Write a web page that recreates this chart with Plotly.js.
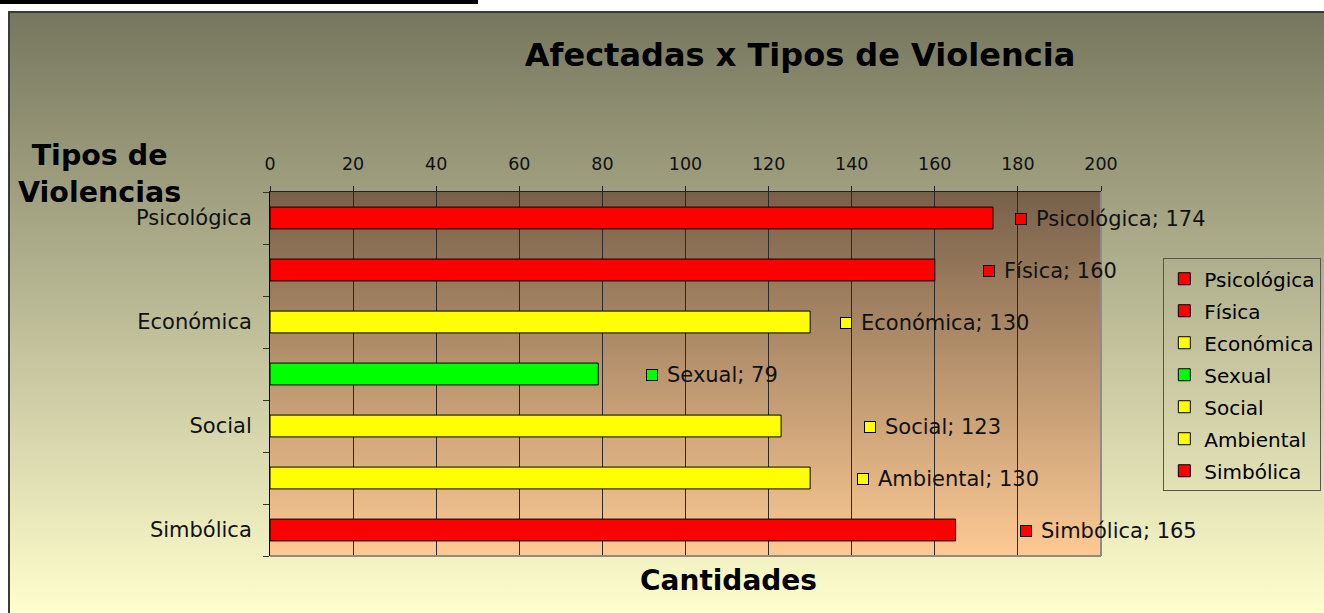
<!DOCTYPE html>
<html>
<head>
<meta charset="utf-8">
<script src="https://cdn.plot.ly/plotly-3.0.1.min.js"></script>
<style>
  html, body { margin: 0; padding: 0; background: #fff; }
  #wrap { position: relative; width: 1324px; height: 613px; overflow: hidden; background: #fff; }
  #frame { position: absolute; left: 8px; top: 11px; right: -10px; bottom: 0; box-sizing: border-box;
           background: linear-gradient(to bottom, #77775f 0%, #fffecd 100%);
           border-left: 2px solid #3a3a3a; border-top: 2px solid #3a3a3a; }
  #topbar { position: absolute; left: 0; top: 0; width: 478px; height: 4px; background: #000; }
  #chart { position: absolute; left: 0; top: 0; width: 1324px; height: 613px; }
</style>
</head>
<body>
<div id="wrap">
  <div id="frame"></div>
  <div id="topbar"></div>
  <div id="chart"></div>
</div>
<script>
// ---- data ----
const categories = ['Psicológica', 'Física', 'Económica', 'Sexual', 'Social', 'Ambiental', 'Simbólica'];
const values = [174, 160, 130, 79, 123, 130, 165];
const barColors = ['#ff0000', '#ff0000', '#ffff00', '#00ff00', '#ffff00', '#ffff00', '#ff0000'];
const yTickText = ['Psicológica', '', 'Económica', '', 'Social', '', 'Simbólica'];
const xTickVals = [0, 20, 40, 60, 80, 100, 120, 140, 160, 180, 200];
const chartTitle = 'Afectadas x Tipos de Violencia';
const yTitle = 'Tipos de<br>Violencias';
const xTitle = 'Cantidades';
// data-label offsets (pixels) to the right of each bar end
const labelShift = [22, 48, 30, 48, 83, 47, 64];

const FONT = 'DejaVu Sans, Arial, sans-serif';

const traces = categories.map((c, i) => ({
  type: 'bar',
  orientation: 'h',
  x: [values[i]],
  y: [c],
  name: c,
  legendgroup: c,
  width: 0.42,
  marker: { color: barColors[i], line: { color: '#000', width: 1 } },
  hovertemplate: c + ': %{x}<extra></extra>'
}));

const annotations = [];
categories.forEach((c, i) => {
  annotations.push({
    x: values[i], y: c, xref: 'x', yref: 'y',
    xanchor: 'left', yanchor: 'middle', xshift: labelShift[i], yshift: -1,
    showarrow: false, text: ' ', width: 10, height: 10,
    bgcolor: barColors[i], bordercolor: '#000', borderwidth: 1, borderpad: 0,
    font: { size: 6 }
  });
  annotations.push({
    x: values[i], y: c, xref: 'x', yref: 'y',
    xanchor: 'left', yanchor: 'middle', xshift: labelShift[i] + 19, yshift: -1,
    showarrow: false, text: c + '; ' + values[i],
    font: { family: FONT, size: 21, color: '#111' }
  });
});
annotations.push({
  xref: 'paper', yref: 'paper', x: -0.205, y: 1.049, xanchor: 'center', yanchor: 'middle',
  showarrow: false, text: '<b>' + yTitle.replace('<br>', '</b><br><b>') + '</b>',
  font: { family: FONT, size: 28.5, color: '#000' }
});
annotations.push({
  xref: 'paper', yref: 'paper', x: 0.552, y: -0.066, xanchor: 'center', yanchor: 'middle',
  showarrow: false, text: '<b>' + xTitle + '</b>',
  font: { family: FONT, size: 28, color: '#000' }
});

const plotBg = 'data:image/svg+xml;base64,' + btoa(
  '<svg xmlns="http://www.w3.org/2000/svg" width="100" height="100" viewBox="0 0 100 100" preserveAspectRatio="none">' +
  '<defs><linearGradient id="g" x1="0" y1="0" x2="0" y2="1">' +
  '<stop offset="0" stop-color="#77604a"/><stop offset="1" stop-color="#fdca94"/>' +
  '</linearGradient></defs><rect x="0" y="0" width="100" height="100" fill="url(#g)"/></svg>');

const layout = {
  width: 1324, height: 613,
  margin: { l: 270, r: 223, t: 192, b: 57, pad: 0, autoexpand: false },
  paper_bgcolor: 'rgba(0,0,0,0)',
  plot_bgcolor: 'rgba(0,0,0,0)',
  barmode: 'overlay',
  showlegend: true,
  title: {
    text: '<b>' + chartTitle + '</b>',
    x: 800 / 1324, xref: 'container', xanchor: 'center',
    y: 1 - 55 / 613, yref: 'container', yanchor: 'middle',
    font: { family: FONT, size: 32, color: '#000' }
  },
  xaxis: {
    side: 'top', range: [0, 200], tickmode: 'array', tickvals: xTickVals,
    ticks: 'outside', ticklen: 5, tickcolor: '#222', tickwidth: 1,
    showgrid: true, gridcolor: '#2a2a2a', gridwidth: 1,
    showline: true, linecolor: '#222', linewidth: 1, zeroline: false,
    ticklabelstandoff: 9, automargin: false,
    tickfont: { family: FONT, size: 17.5, color: '#111' },
    fixedrange: true
  },
  yaxis: {
    type: 'category', categoryorder: 'array', categoryarray: categories,
    autorange: 'reversed',
    tickmode: 'array', tickvals: categories, ticktext: yTickText,
    tickson: 'boundaries', ticks: 'outside', ticklen: 6, tickcolor: '#333',
    showgrid: false, showline: true, linecolor: '#000', linewidth: 1, zeroline: false,
    ticklabelstandoff: 13, automargin: false,
    tickfont: { family: FONT, size: 21, color: '#111' },
    fixedrange: true
  },
  legend: {
    x: 1.075, y: 0.818, xref: 'paper', yref: 'paper', xanchor: 'left', yanchor: 'top',
    bgcolor: 'rgba(0,0,0,0)', bordercolor: '#555', borderwidth: 1,
    font: { family: FONT, size: 20, color: '#000' },
    tracegroupgap: 3, traceorder: 'grouped', itemwidth: 30
  },
  images: [{
    source: plotBg, xref: 'paper', yref: 'paper', x: 0, y: 1, sizex: 1, sizey: 1,
    xanchor: 'left', yanchor: 'top', sizing: 'stretch', layer: 'below'
  }],
  shapes: [
    { type: 'line', xref: 'paper', yref: 'paper', x0: 1, x1: 1, y0: 0, y1: 1, line: { color: '#8c8c8c', width: 2 } },
    { type: 'line', xref: 'paper', yref: 'paper', x0: 0, x1: 1, y0: 0, y1: 0, line: { color: '#958a7e', width: 2 } }
  ],
  annotations: annotations
};

Plotly.newPlot('chart', traces, layout, { displayModeBar: false, responsive: false });
</script>
</body>
</html>
